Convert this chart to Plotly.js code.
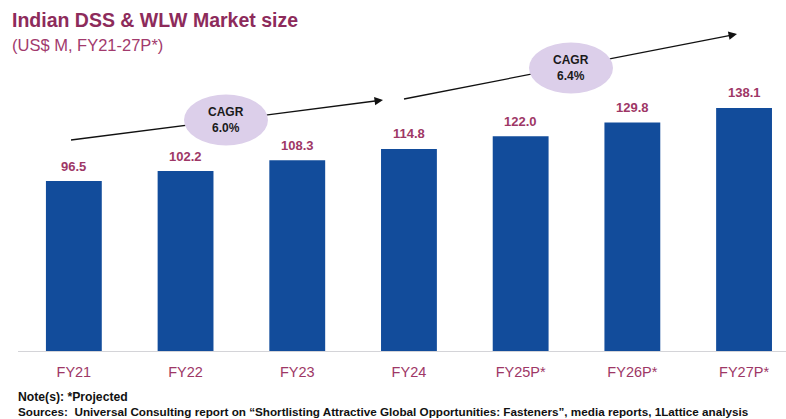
<!DOCTYPE html>
<html>
<head>
<meta charset="utf-8">
<script src="https://cdn.plot.ly/plotly-3.0.1.min.js"></script>
<style>html,body{margin:0;padding:0;background:#fff;}#chart{width:786px;height:419px;}</style>
</head>
<body>
<div id="chart"></div>
<script>
const categories = ["FY21", "FY22", "FY23", "FY24", "FY25P*", "FY26P*", "FY27P*"];
const marketSize = [96.5, 102.2, 108.3, 114.8, 122.0, 129.8, 138.1];
const cagrLabels = ["6.0%", "6.4%"];
const titleText = "Indian DSS & WLW Market size";
const subtitleText = "(US$ M, FY21-27P*)";
const noteText = "Note(s): *Projected";
const sourceText = "Sources:  Universal Consulting report on \u201cShortlisting Attractive Global Opportunities: Fasteners\u201d, media reports, 1Lattice analysis";

const W = 786, H = 419;
const M = {l: 18, r: 0, t: 60, b: 68};
const plotW = W - M.l - M.r, plotH = H - M.t - M.b;
const yMax = 165.3;
const xMin = -0.5, xMax = -0.5 + plotW / 111.7;
// pixel -> paper helpers for decorations
const paperY = py => (H - M.b - py) / plotH;
const paperX = px => (px - M.l) / plotW;

const labelColor = "#9e3766";
const font = "Liberation Sans, Arial, sans-serif";

const trace = {
  type: "bar",
  x: categories,
  y: marketSize,
  marker: {color: "#124c9b"},
  hoverinfo: "x+y"
};

const valueAnnotations = categories.map((c, i) => ({
  x: c, y: marketSize[i], xref: "x", yref: "y",
  text: "<b>" + marketSize[i].toFixed(1) + "</b>",
  showarrow: false, xanchor: "center", yanchor: "middle", yshift: 15,
  font: {family: font, size: 13, color: labelColor}
}));

// arrows: [tail px, head px, ellipse center px]
const arrows = [
  {x0: 71, y0: 140, x1: 383, y1: 100, ex: 226, ey: 120},
  {x0: 404, y0: 99, x1: 737, y1: 34, ex: 571, ey: 68}
];
const rx = 42, ry = 25.5;

const shapes = [];
arrows.forEach(a => {
  const s = (a.y1 - a.y0) / (a.x1 - a.x0);
  shapes.push({type: "line", xref: "paper", yref: "paper", x0: paperX(a.x0), y0: paperY(a.y0), x1: paperX(a.x1 - 4), y1: paperY(a.y1 - 4 * s), line: {color: "#111", width: 1.3}, layer: "above"});
});
arrows.forEach(a => {
  shapes.push({type: "circle", xref: "paper", yref: "paper", x0: paperX(a.ex - rx), x1: paperX(a.ex + rx), y0: paperY(a.ey + ry), y1: paperY(a.ey - ry), fillcolor: "#dccfea", line: {width: 0}, layer: "above"});
});

const arrowHeads = arrows.map(a => {
  const len = Math.hypot(a.x1 - a.x0, a.y1 - a.y0);
  const ux = (a.x1 - a.x0) / len, uy = (a.y1 - a.y0) / len;
  return {
    x: paperX(a.x1), y: paperY(a.y1), xref: "paper", yref: "paper",
    ax: -ux * 9, ay: -uy * 9, axref: "pixel", ayref: "pixel",
    text: "", showarrow: true, arrowhead: 2, arrowsize: 1.3, arrowwidth: 1.3, arrowcolor: "#111", standoff: 0
  };
});

const cagrAnnotations = arrows.map((a, i) => ({
  x: paperX(a.ex), y: paperY(a.ey), xref: "paper", yref: "paper",
  xanchor: "center", yanchor: "middle",
  text: "<b>CAGR</b><br><b>" + cagrLabels[i] + "</b>",
  showarrow: false, font: {family: font, size: 12, color: "#1a1a1a"}
}));

const textAnnotations = [
  {xref: "paper", yref: "paper", x: paperX(10), y: paperY(20), xanchor: "left", yanchor: "middle", showarrow: false,
   text: "<b>" + titleText + "</b>", font: {family: font, size: 19.5, color: "#8d2b5b"}},
  {xref: "paper", yref: "paper", x: paperX(10), y: paperY(45), xanchor: "left", yanchor: "middle", showarrow: false,
   text: subtitleText, font: {family: font, size: 16.5, color: "#a23a6d"}},
  {xref: "paper", yref: "paper", x: paperX(16), y: paperY(397.5), xanchor: "left", yanchor: "middle", showarrow: false,
   text: "<b>" + noteText + "</b>", font: {family: font, size: 12.2, color: "#111"}},
  {xref: "paper", yref: "paper", x: paperX(16), y: paperY(411.5), xanchor: "left", yanchor: "middle", showarrow: false,
   text: "<b>" + sourceText + "</b>", font: {family: font, size: 11.7, color: "#111"}}
];

const layout = {
  width: W, height: H,
  margin: M,
  paper_bgcolor: "#fff", plot_bgcolor: "#fff",
  showlegend: false,
  bargap: 0.5,
  xaxis: {
    type: "category", range: [xMin, xMax],
    showline: true, linecolor: "#d4d4d8", linewidth: 1,
    ticks: "", showgrid: false, zeroline: false,
    tickfont: {family: font, size: 14.5, color: labelColor},
    ticklabelstandoff: 8
  },
  yaxis: {
    range: [0, yMax], visible: false, showgrid: false, zeroline: false, fixedrange: true
  },
  shapes: shapes,
  annotations: valueAnnotations.concat(arrowHeads, cagrAnnotations, textAnnotations)
};

Plotly.newPlot("chart", [trace], layout, {displayModeBar: false, staticPlot: true});
</script>
</body>
</html>
